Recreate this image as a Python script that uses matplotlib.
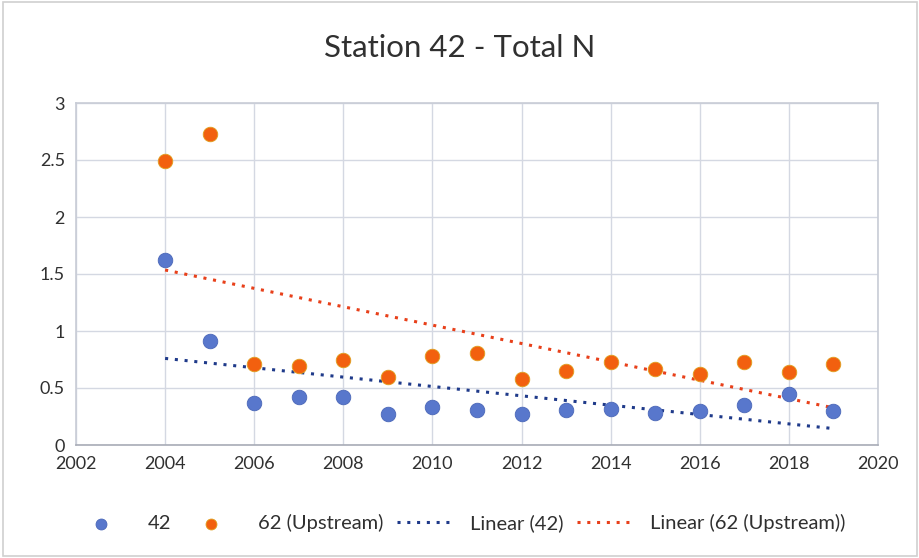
import matplotlib

matplotlib.use("Agg")

import matplotlib.pyplot as plt
import numpy as np

years = [2004, 2005, 2006, 2007, 2008, 2009, 2010, 2011,
         2012, 2013, 2014, 2015, 2016, 2017, 2018, 2019]
station_42 = [1.62, 0.91, 0.37, 0.42, 0.42, 0.27, 0.33, 0.31,
              0.27, 0.31, 0.32, 0.28, 0.30, 0.35, 0.45, 0.30]
station_62 = [2.49, 2.73, 0.71, 0.69, 0.75, 0.60, 0.78, 0.81,
              0.58, 0.65, 0.73, 0.67, 0.62, 0.73, 0.64, 0.71]
x_ticks = [2002, 2004, 2006, 2008, 2010, 2012, 2014, 2016, 2018, 2020]
y_ticks = [0, 0.5, 1, 1.5, 2, 2.5, 3]

plt.rcParams["font.family"] = ["Lato", "DejaVu Sans"]

blue = "#5877CC"
orange = "#F2600F"
blue_trend = "#1F3A8A"
orange_trend = "#E8401A"

fig = plt.figure(figsize=(9.2, 5.58), dpi=100)
ax = fig.add_axes([76 / 920, 1 - 445 / 558, (878 - 76) / 920, (445 - 103) / 558])

x = np.array(years, dtype=float)
dots_42 = ax.scatter(x, station_42, s=110, color=blue, edgecolors="#4A67B8",
                     linewidths=0.6, zorder=3, label="42")
dots_62 = ax.scatter(x, station_62, s=110, color=orange, edgecolors="#E0A020",
                     linewidths=0.6, zorder=3, label="62 (Upstream)")

trend_lines = []
for series, colour, name in ((station_42, blue_trend, "Linear (42)"),
                             (station_62, orange_trend, "Linear (62 (Upstream))")):
    slope, intercept = np.polyfit(x, series, 1)
    (line,) = ax.plot(x, slope * x + intercept, color=colour, linestyle=(0, (1, 2.2)),
                      linewidth=2.2, zorder=2, label=name)
    trend_lines.append(line)

ax.set_xlim(2002, 2020)
ax.set_ylim(0, 3)
ax.set_xticks(x_ticks)
ax.set_yticks(y_ticks)
ax.set_yticklabels(["0", "0.5", "1", "1.5", "2", "2.5", "3"])
ax.grid(True, color="#D4D8E2", linewidth=1.0)
ax.set_axisbelow(True)
for spine in ax.spines.values():
    spine.set_color("#C8CCD6")
    spine.set_linewidth(1.2)
ax.spines["bottom"].set_color("#A8ACB6")
ax.tick_params(length=0, labelsize=13, colors="#303030", pad=8)

fig.text(0.5, 1 - 48 / 558, "Station 42 - Total N", ha="center", va="center",
         fontsize=22.5, color="#303030")

handles = [dots_42, dots_62] + trend_lines
fig.legend(handles, [h.get_label() for h in handles],
           loc="center", bbox_to_anchor=(0.5, 1 - 523 / 558), ncol=4,
           frameon=False, fontsize=14.5, handlelength=2.6, columnspacing=0.7,
           handletextpad=1.0, labelcolor="#303030", markerscale=0.75)

fig.patches.append(plt.Rectangle((0.003, 0.003), 0.994, 0.994, transform=fig.transFigure,
                                 fill=False, edgecolor="#D0D0D0", linewidth=1.2))

fig.savefig("out.png", dpi=100)
